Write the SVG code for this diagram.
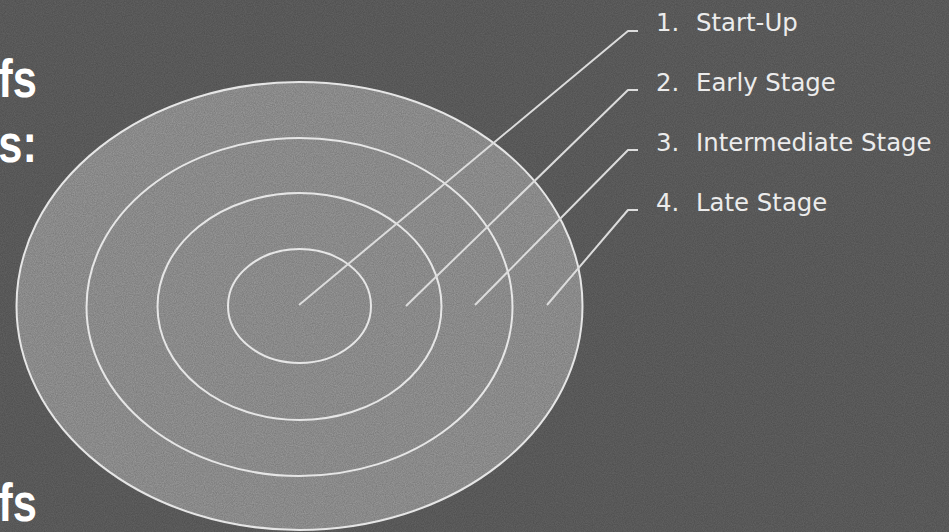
<svg xmlns="http://www.w3.org/2000/svg" width="949" height="532" viewBox="0 0 949 532">
  <defs>
    <filter id="grain" x="0" y="0" width="100%" height="100%">
      <feTurbulence type="fractalNoise" baseFrequency="0.9" numOctaves="2" seed="3" result="n"/>
      <feColorMatrix in="n" type="matrix" values="0 0 0 0 0  0 0 0 0 0  0 0 0 0 0  0 0 0 0.25 0"/>
    </filter>
    <style>
      .ring { fill: none; stroke: #e6e6e6; stroke-width: 2; }
      .lead { fill: none; stroke: #dcdcdc; stroke-width: 2; stroke-linejoin: round; }
      .lbl { font-family: "DejaVu Sans", Verdana, sans-serif; font-size: 24.4px; fill: #ececec; }
      .big { font-family: "Liberation Sans", Arial, sans-serif; font-weight: bold; font-size: 53px; fill: #ffffff; }
    </style>
  </defs>
  <rect x="0" y="0" width="949" height="532" fill="#656565"/>
  <ellipse cx="299.5" cy="306" rx="283" ry="224" fill="#9d9d9d"/>
  <rect x="0" y="0" width="949" height="532" filter="url(#grain)"/>

  <g id="left-text">
    <text class="big" text-anchor="end" transform="translate(37,97) scale(0.82,1)">fs</text>
    <text class="big" text-anchor="end" transform="translate(37,162) scale(0.82,1)">s:</text>
    <text class="big" text-anchor="end" transform="translate(37,521) scale(0.82,1)">fs</text>
  </g>

  <g id="target">
    <ellipse id="ring4" class="ring" cx="299.5" cy="306" rx="283" ry="224"/>
    <ellipse id="ring3" class="ring" cx="299.5" cy="307" rx="213" ry="169"/>
    <ellipse id="ring2" class="ring" cx="299.5" cy="306.5" rx="142" ry="113.5"/>
    <ellipse id="ring1" class="ring" cx="299.5" cy="306" rx="71.5" ry="57"/>
  </g>

  <g id="connectors">
    <polyline class="lead" points="299,305 628,31 638,31"/>
    <polyline class="lead" points="406,306 628,90 638,90"/>
    <polyline class="lead" points="475,305 628,150 638,150"/>
    <polyline class="lead" points="547,305 628,210 638,210"/>
  </g>

  <g id="label1"><text class="lbl" y="31"><tspan x="656">1.</tspan><tspan x="696">Start-Up</tspan></text></g>
  <g id="label2"><text class="lbl" y="91"><tspan x="656">2.</tspan><tspan x="696">Early Stage</tspan></text></g>
  <g id="label3"><text class="lbl" y="151"><tspan x="656">3.</tspan><tspan x="696">Intermediate Stage</tspan></text></g>
  <g id="label4"><text class="lbl" y="211"><tspan x="656">4.</tspan><tspan x="696">Late Stage</tspan></text></g>
</svg>
